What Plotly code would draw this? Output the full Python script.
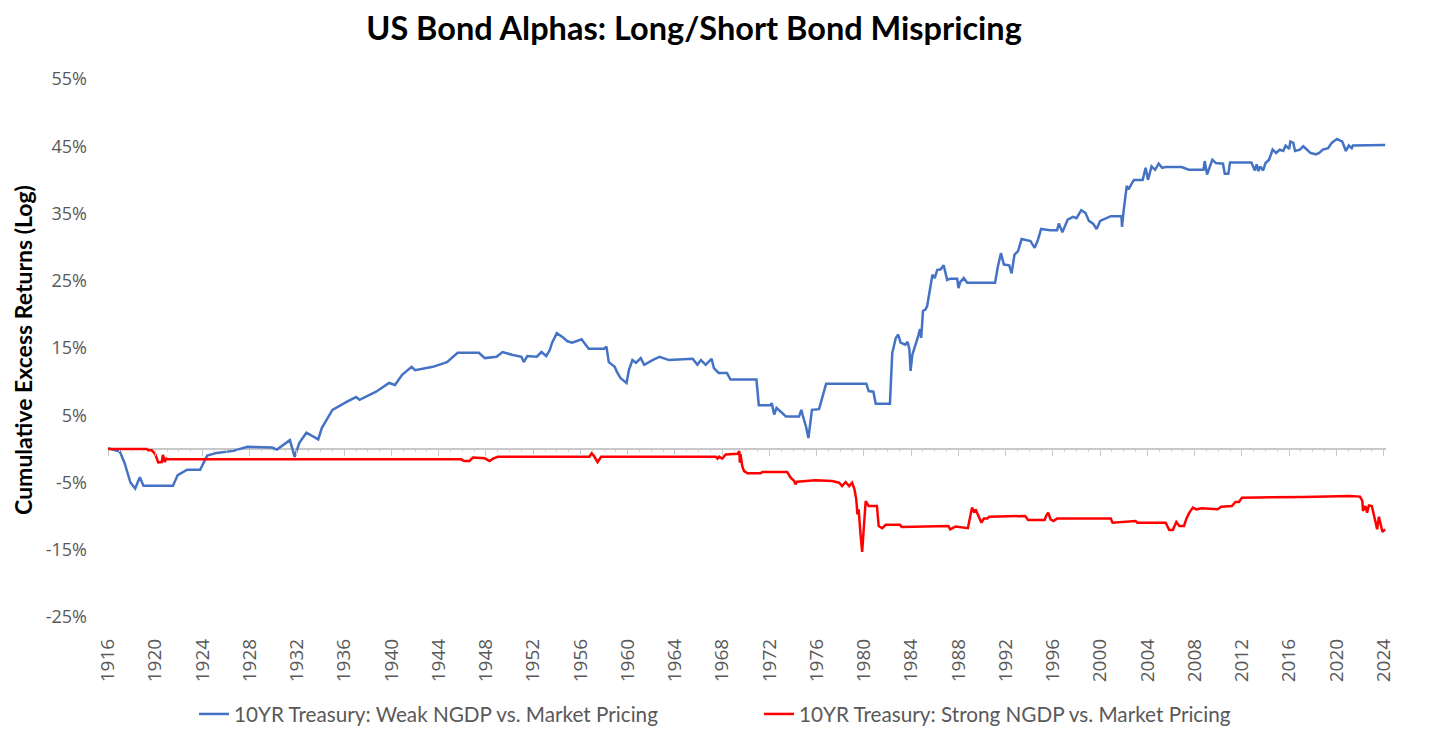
import plotly.graph_objects as go

# Weak NGDP vs. market pricing (cumulative excess return, %)
blue_year = [1916.0, 1917.0, 1917.4, 1917.9, 1918.3, 1918.7, 1919.0, 1921.5, 1921.9, 1922.7,
             1923.8, 1924.4, 1925.2, 1926.6, 1927.8, 1929.9, 1930.3, 1931.4, 1931.8, 1932.2,
             1932.8, 1933.8, 1934.1, 1934.5, 1935.0, 1936.2, 1937.0, 1937.3, 1938.7, 1939.8,
             1940.3, 1940.9, 1941.7, 1942.0, 1943.5, 1944.7, 1945.6, 1947.4, 1947.9, 1948.9,
             1949.4, 1950.2, 1951.0, 1951.2, 1951.5, 1952.3, 1952.7, 1953.1, 1953.4, 1953.6,
             1954.0, 1954.5, 1954.9, 1955.3, 1956.1, 1956.3, 1956.7, 1958.0, 1958.2, 1958.4,
             1958.9, 1959.1, 1959.4, 1959.9, 1960.1, 1960.4, 1960.7, 1961.1, 1961.4, 1962.1,
             1962.7, 1963.5, 1965.5, 1965.9, 1966.2, 1966.6, 1967.1, 1967.3, 1967.7, 1968.4,
             1968.7, 1970.9, 1971.1, 1972.1, 1972.2, 1972.4, 1972.6, 1973.1, 1973.4, 1974.5,
             1974.7, 1974.8, 1975.1, 1975.3, 1975.6, 1976.2, 1976.4, 1976.8, 1980.2, 1980.4,
             1980.8, 1981.0, 1982.2, 1982.4, 1982.5, 1982.7, 1982.9, 1983.1, 1983.5, 1983.7,
             1983.85, 1983.95, 1984.1, 1984.35, 1984.6, 1984.75, 1984.85, 1985.0, 1985.2, 1985.35,
             1985.55, 1985.8, 1986.0, 1986.2, 1986.5, 1986.75, 1987.05, 1987.3, 1987.9, 1988.0,
             1988.15, 1988.45, 1988.75, 1991.1, 1991.35, 1991.6, 1991.85, 1992.3, 1992.5, 1992.75,
             1993.05, 1993.35, 1994.1, 1994.45, 1994.7, 1995.0, 1995.75, 1996.35, 1996.5, 1996.8,
             1997.25, 1997.7, 1998.0, 1998.4, 1998.75, 1999.05, 1999.4, 1999.7, 2000.0, 2000.9,
             2001.8, 2001.85, 2002.0, 2002.25, 2002.4, 2002.7, 2002.85, 2003.6, 2003.85, 2004.05,
             2004.35, 2004.65, 2004.95, 2005.25, 2005.55, 2006.9, 2007.5, 2008.75, 2008.85, 2009.05,
             2009.5, 2009.8, 2010.4, 2010.55, 2010.85, 2011.0, 2012.8, 2012.95, 2013.1, 2013.25,
             2013.4, 2013.55, 2013.8, 2014.0, 2014.3, 2014.6, 2014.9, 2015.2, 2015.5, 2015.7,
             2016.0, 2016.1, 2016.35, 2016.5, 2016.9, 2017.2, 2017.5, 2017.8, 2018.25, 2018.55,
             2018.85, 2019.3, 2019.6, 2020.05, 2020.5, 2020.8, 2021.05, 2021.3, 2021.4, 2024.0,
             2024.13]
blue_val = [0.1, -0.4, -2.1, -5.0, -5.9, -4.2, -5.5, -5.5, -3.9, -3.1,
            -3.1, -1.0, -0.6, -0.3, 0.3, 0.2, -0.1, 1.3, -1.2, 0.9,
            2.4, 1.4, 3.1, 4.3, 5.8, 7.0, 7.7, 7.3, 8.5, 9.8,
            9.5, 11.0, 12.2, 11.7, 12.2, 12.9, 14.3, 14.3, 13.5, 13.7,
            14.4, 14.0, 13.7, 12.9, 13.8, 13.7, 14.4, 13.8, 14.7, 15.8,
            17.2, 16.6, 16.0, 15.8, 16.3, 15.8, 14.9, 14.9, 15.2, 12.9,
            12.2, 11.4, 10.5, 9.8, 11.7, 13.2, 12.8, 13.5, 12.5, 13.2,
            13.7, 13.2, 13.4, 12.5, 13.2, 12.5, 13.4, 12.0, 11.3, 11.3,
            10.3, 10.3, 6.5, 6.5, 6.8, 5.1, 6.1, 5.3, 4.8, 4.8,
            5.8, 5.1, 3.3, 1.6, 5.8, 5.9, 7.3, 9.7, 9.7, 8.6,
            8.5, 6.7, 6.7, 14.3, 15.0, 16.5, 17.0, 15.8, 15.5, 15.9,
            14.8, 11.6, 14.0, 15.3, 16.8, 17.8, 16.5, 20.5, 20.7, 21.2,
            23.2, 25.9, 25.4, 26.6, 26.7, 27.3, 25.1, 25.3, 25.3, 23.9,
            24.8, 25.4, 24.7, 24.7, 27.2, 29.1, 27.4, 27.3, 26.1, 28.9,
            29.4, 31.2, 30.9, 29.9, 30.9, 32.7, 32.5, 32.5, 33.5, 32.2,
            34.1, 34.5, 34.3, 35.5, 35.1, 33.9, 33.5, 32.7, 33.9, 34.6,
            34.6, 33.0, 35.6, 39.1, 38.6, 39.5, 40.0, 40.0, 41.8, 40.0,
            42.0, 41.5, 42.4, 41.8, 41.9, 41.9, 41.5, 41.5, 42.8, 40.8,
            43.0, 42.5, 42.4, 40.9, 40.9, 42.6, 42.6, 42.0, 41.4, 42.3,
            41.3, 42.0, 41.4, 42.5, 43.0, 44.5, 44.0, 44.5, 44.3, 45.1,
            44.6, 45.7, 45.5, 44.3, 44.5, 45.0, 44.5, 44.0, 43.8, 44.0,
            44.5, 44.7, 45.5, 46.1, 45.7, 44.3, 45.1, 44.7, 45.1, 45.1,
            45.2]

# Strong NGDP vs. market pricing
red_year = [1916.0, 1919.3, 1919.4, 1919.7, 1920.0, 1920.25, 1920.55, 1920.65, 1920.8, 1920.95,
            1921.1, 1945.9, 1946.15, 1946.6, 1946.9, 1947.9, 1948.3, 1948.6, 1949.0, 1956.75,
            1956.95, 1957.15, 1957.45, 1957.75, 1967.45, 1967.6, 1967.75, 1968.0, 1968.3, 1969.3,
            1969.45, 1969.5, 1969.55, 1969.7, 1969.85, 1970.15, 1971.25, 1971.4, 1973.5, 1973.8,
            1974.1, 1974.2, 1974.35, 1975.6, 1975.9, 1977.3, 1977.9, 1978.15, 1978.45, 1978.75,
            1979.0, 1979.2, 1979.35, 1979.45, 1979.55, 1979.7, 1979.85, 1980.0, 1980.15, 1980.4,
            1981.1, 1981.25, 1981.55, 1981.85, 1983.05, 1983.2, 1987.15, 1987.3, 1987.75, 1988.8,
            1988.95, 1989.15, 1989.35, 1989.45, 1989.7, 1989.95, 1990.15, 1990.45, 1990.6, 1992.3,
            1992.35, 1993.65, 1993.9, 1995.3, 1995.45, 1995.6, 1995.8, 1996.05, 1996.35, 2000.9,
            2001.05, 2003.0, 2003.15, 2005.55, 2005.85, 2006.15, 2006.45, 2006.7, 2007.1, 2007.3,
            2007.55, 2007.85, 2008.15, 2008.6, 2009.95, 2010.25, 2011.15, 2011.45, 2011.75, 2012.0,
            2017.2, 2021.1, 2022.0, 2022.2, 2022.25, 2022.45, 2022.6, 2022.75, 2023.0, 2023.3,
            2023.45, 2023.6, 2023.75, 2023.9, 2024.13]
red_val = [0.0, 0.0, -0.2, -0.2, -0.8, -2.0, -1.95, -0.9, -1.95, -1.45,
           -1.55, -1.55, -1.8, -1.8, -1.3, -1.4, -1.8, -1.45, -1.17, -1.17,
           -0.67, -1.07, -1.96, -1.17, -1.17, -1.46, -1.17, -1.46, -0.82, -0.72,
           -0.33, -2.06, -0.8, -2.56, -3.3, -3.64, -3.64, -3.45, -3.45, -4.29,
           -4.78, -5.28, -4.88, -4.78, -4.68, -4.78, -5.03, -5.53, -4.93, -5.53,
           -5.03, -6.02, -7.5, -9.74, -9.0, -12.46, -15.33, -11.47, -7.76, -8.5,
           -8.5, -11.47, -11.8, -11.3, -11.3, -11.6, -11.46, -11.96, -11.56, -11.8,
           -10.47, -8.74, -9.48, -8.99, -9.98, -10.97, -10.37, -10.37, -10.08, -10.08,
           -9.98, -9.98, -10.57, -10.57, -9.88, -9.48, -10.47, -10.72, -10.37, -10.37,
           -10.97, -10.72, -10.97, -10.97, -12.06, -12.06, -10.87, -11.46, -11.46, -10.37,
           -9.48, -8.74, -8.99, -8.84, -8.99, -8.59, -8.49, -7.9, -7.9, -7.25,
           -7.15, -7.0, -7.1, -7.75, -9.23, -8.49, -9.48, -8.4, -8.49, -10.97,
           -11.96, -10.08, -11.07, -12.35, -11.96]

year_ticks = list(range(1916, 2025, 4))
y_ticks = [-25, -15, -5, 5, 15, 25, 35, 45, 55]
y_labels = [f'{v}%' for v in y_ticks]

grey = '#595959'

fig = go.Figure()
fig.add_trace(go.Scatter(x=blue_year, y=blue_val, mode='lines',
                         name='10YR Treasury: Weak NGDP vs. Market Pricing',
                         line=dict(color='#4472C4', width=2.5)))
fig.add_trace(go.Scatter(x=red_year, y=red_val, mode='lines',
                         name='10YR Treasury: Strong NGDP vs. Market Pricing',
                         line=dict(color='#FF0000', width=2.5)))

# invisible trace so the tick marks along the zero line get drawn
fig.add_trace(go.Scatter(x=[year_ticks[0], year_ticks[-1]], y=[0, 0], xaxis='x2',
                         mode='markers', marker=dict(opacity=0), showlegend=False,
                         hoverinfo='skip'))

# page body has an 8px margin, so the figure is 8px smaller than the window
fig.update_layout(
    width=1448, height=727,
    paper_bgcolor='white', plot_bgcolor='white',
    margin=dict(l=100, r=70, t=71, b=118),
    title=dict(text='<b>US Bond Alphas: Long/Short Bond Mispricing</b>',
               x=0.4738, xanchor='center', y=0.9711, yanchor='middle',
               font=dict(family='Lato, sans-serif', size=32.5, color='black')),
    xaxis=dict(range=[1916, 2024.2], tickvals=year_ticks, tickangle=-90,
               showgrid=False, zeroline=False, showline=False, ticks='',
               automargin=False, ticklabelstandoff=17,
               tickfont=dict(family='Open Sans, sans-serif', size=19, color=grey)),
    xaxis2=dict(overlaying='x', matches='x', anchor='free', position=25 / 80,
                showticklabels=False, showgrid=False, zeroline=False, showline=False,
                tickvals=year_ticks, ticks='outside', ticklen=6, tickcolor='#c8c8c8',
                minor=dict(dtick=1, ticks='outside', ticklen=2, tickcolor='#d6d6d6')),
    yaxis=dict(range=[-25, 55], tickvals=y_ticks, ticktext=y_labels,
               showgrid=False, zeroline=True, zerolinecolor='#c8c8c8', zerolinewidth=1.5,
               showline=False, ticks='', automargin=False, ticklabelstandoff=20,
               tickfont=dict(family='Open Sans, sans-serif', size=18, color=grey)),
    legend=dict(orientation='h', x=0.0673, xanchor='left',
                yref='container', y=0.0289, yanchor='middle',
                font=dict(family='Lato, sans-serif', size=20.7, color=grey),
                entrywidth=520, entrywidthmode='pixels', traceorder='normal'),
    annotations=[dict(text='<b>Cumulative Excess Returns (Log)</b>', textangle=-90,
                      xref='paper', yref='paper', x=-0.0667, y=0.496,
                      xanchor='center', yanchor='middle', showarrow=False,
                      font=dict(family='Lato, sans-serif', size=23, color='black'))],
)

fig.write_html("out.html")
